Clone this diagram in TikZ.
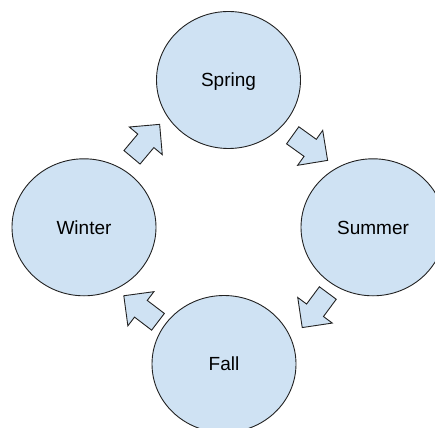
\documentclass[tikz,border=0pt]{standalone}
\usepackage{fontspec}
\setmainfont{Liberation Sans}
\usetikzlibrary{shapes.geometric}
\definecolor{seasonfill}{HTML}{CFE2F3}
\definecolor{seasonline}{HTML}{222222}
\tikzset{
  season/.style={ellipse, draw=seasonline, line width=0.9pt, fill=seasonfill, minimum width=144pt, minimum height=137pt, inner sep=0pt, text height=13.6pt, text depth=0pt, font=\fontsize{19}{22}\selectfont},
  blockarrow/.style={draw=seasonline, line width=0.9pt, fill=seasonfill, line join=miter},
  pics/turn/.style={code={
    \draw[blockarrow] (0,-10.5) -- (21.5,-10.5) -- (21.5,-21.5) -- (43,0)
      -- (21.5,21.5) -- (21.5,10.5) -- (0,10.5) -- cycle;
  }}
}
\begin{document}
\begin{tikzpicture}[x=1pt, y=-1pt]
  \useasboundingbox (0,0) rectangle (435,427);

  \node[season] (spring) at (228.5,80) {Spring};
  \node[season] (winter) at (84,227.3) {Winter};
  \node[season] (summer) at (373,227.3) {Summer};
  \node[season] (fall) at (224,364) {Fall};

  % block arrows between the seasons
  \pic[rotate=50] (winterToSpring) at (132,157.3) {turn};
  \pic[rotate=-35.7] (springToSummer) at (292.7,135.3) {turn};
  \pic[rotate=-126.5] (summerToFall) at (327.8,293) {turn};
  \pic[rotate=142.7] (fallToWinter) at (158,321.8) {turn};
\end{tikzpicture}
\end{document}
